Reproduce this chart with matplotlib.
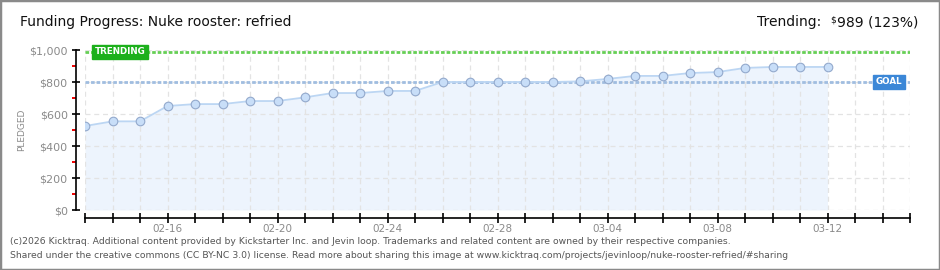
import numpy as np
import pandas as pd
import matplotlib
matplotlib.use("Agg")
import matplotlib.pyplot as plt
import matplotlib.dates as mdates
from matplotlib.ticker import FixedLocator, FuncFormatter
from matplotlib.patches import Rectangle

# data
dates = pd.date_range("2026-02-13", "2026-03-12", freq="D")
pledged = [525, 554, 554, 650, 662, 662, 681, 681, 704, 731, 731, 744, 744, 800,
           800, 800, 800, 800, 804, 819, 838, 838, 856, 862, 888, 894, 894, 894]
goal = 800
trending = 989
x_start = pd.Timestamp("2026-02-13")
x_end = pd.Timestamp("2026-03-15")
y_ticks = [0, 200, 400, 600, 800, 1000]
y_labels = ["$0", "$200", "$400", "$600", "$800", "$1,000"]

title = "Funding Progress: Nuke rooster: refried"
footer1 = ("(c)2026 Kicktraq. Additional content provided by Kickstarter Inc. and Jevin loop. "
           "Trademarks and related content are owned by their respective companies.")
footer2 = ("Shared under the creative commons (CC BY-NC 3.0) license. Read more about sharing "
           "this image at www.kicktraq.com/projects/jevinloop/nuke-rooster-refried/#sharing")

plt.rcParams["font.family"] = ["DejaVu Sans"]
plt.rcParams["text.parse_math"] = False

W, H = 940, 270
fig = plt.figure(figsize=(W / 100, H / 100), dpi=100)
fig.patch.set_facecolor("white")
fig.patches.append(Rectangle((0, 0), 1, 1, transform=fig.transFigure, fill=False,
                             edgecolor="#8a8a8a", linewidth=2.5))

ax = fig.add_axes([85 / W, (H - 210) / H, (910 - 85) / W, 160 / H])
ax.set_xlim(x_start, x_end)
ax.set_ylim(0, 1000)

# area + line
ax.fill_between(dates, pledged, 0, color="#edf4fd", zorder=1, linewidth=0)
ax.plot(dates, pledged, color="#bcd6f3", linewidth=1.3, zorder=3,
        marker="o", markersize=6.2, markerfacecolor="#c8def8",
        markeredgecolor="#93a9cc", markeredgewidth=0.8)

# goal and trending lines
ax.axhline(trending, color="#66cf55", linewidth=2.0, dashes=(1.3, 0.7), zorder=2)
ax.axhline(goal, color="#a0bde0", linewidth=2.0, dashes=(1.3, 0.7), zorder=2)

ax.text(0.012, trending, "TRENDING", transform=ax.get_yaxis_transform(),
        ha="left", va="center", color="white", fontsize=6.3, fontweight="bold",
        zorder=5, bbox=dict(boxstyle="square,pad=0.28", facecolor="#1db01c",
                            edgecolor="#1db01c"))
ax.text(0.991, goal, "GOAL", transform=ax.get_yaxis_transform(),
        ha="right", va="center", color="white", fontsize=6.3, fontweight="bold",
        zorder=5, bbox=dict(boxstyle="square,pad=0.3", facecolor="#3b87d7",
                            edgecolor="#3b87d7"))

# grid
ax.grid(True, which="major", color="#e3e3e3", linestyle=(0, (4, 3)), linewidth=0.9)

# spines
for s in ["top", "right"]:
    ax.spines[s].set_visible(False)
ax.spines["left"].set_position(("outward", 6.5))
ax.spines["bottom"].set_position(("outward", 5.8))
ax.spines["left"].set_linewidth(1.2)
ax.spines["bottom"].set_linewidth(1.2)

# x ticks every day, labels every 4 days from 02-16
ax.xaxis.set_major_locator(mdates.DayLocator())
label_ref = pd.Timestamp("2026-02-16")


def xfmt(v, pos):
    d = pd.Timestamp(mdates.num2date(v)).tz_localize(None).normalize()
    if (d - label_ref).days % 4 == 0 and d < pd.Timestamp("2026-03-15"):
        return d.strftime("%m-%d")
    return ""


ax.xaxis.set_major_formatter(FuncFormatter(xfmt))
ax.tick_params(axis="x", which="major", direction="inout", length=7, width=1.2,
               color="black", labelcolor="#8a8a8a", labelsize=7.5, pad=1)

ax.yaxis.set_major_locator(FixedLocator(y_ticks))
ax.set_yticklabels(y_labels)
ax.yaxis.set_minor_locator(FixedLocator([100, 300, 500, 700, 900]))
ax.tick_params(axis="y", which="major", direction="inout", length=6, width=1.2,
               color="black", labelcolor="#8a8a8a", labelsize=8, pad=3)
ax.tick_params(axis="y", which="minor", direction="out", length=3, width=1.4,
               color="#ee0000")

fig.text(22 / W, 1 - 130 / H, "PLEDGED", rotation=90, ha="center", va="center",
         color="#8a8a8a", fontsize=6.5)

# titles
fig.text(20 / W, 1 - 22 / H, title, ha="left", va="center", fontsize=10,
         color="#111111")
t1 = fig.text(918 / W, 1 - 22 / H, "989 (123%)", ha="right", va="center",
              fontsize=10, color="#111111")
t2 = ax.annotate("$", xy=(-0.01, 1), xycoords=t1, ha="right", va="top",
                 fontsize=6.5, color="#111111", annotation_clip=False)
ax.annotate("Trending:  ", xy=(0, 0.5), xycoords=(t2, t1), ha="right", va="center",
            fontsize=10, color="#111111", annotation_clip=False)

fig.text(10 / W, 1 - 242 / H, footer1, ha="left", va="center", fontsize=6.65,
         color="#555555")
fig.text(10 / W, 1 - 255 / H, footer2, ha="left", va="center", fontsize=6.65,
         color="#555555")

fig.savefig("out.png", dpi=100, facecolor="white")
